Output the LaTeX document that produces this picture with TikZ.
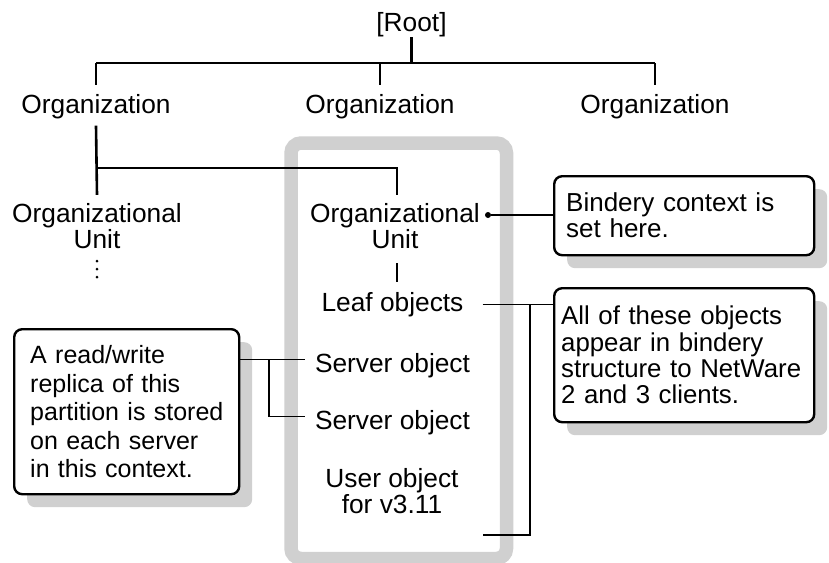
\documentclass[tikz,border=0pt]{standalone}
\usepackage{fontspec}
\setmainfont{Liberation Sans}
\usetikzlibrary{shadows}
\definecolor{framegray}{RGB}{208,208,208}
\begin{document}
\begin{tikzpicture}[x=1pt,y=-1pt,
  txt/.style={inner sep=0pt, font=\fontsize{26.3}{26.5}\selectfont, align=center},
  treeline/.style={line width=2.6pt, black},
  conn/.style={line width=1.4pt, black},
  notebox/.style={draw, line width=2.4pt, rounded corners=8pt, fill=white,
    anchor=north west, align=left, inner ysep=0pt,
    drop shadow={shadow xshift=13pt, shadow yshift=-13pt, fill=framegray, opacity=1}},
  dotnode/.style={circle, fill=black, inner sep=0pt, minimum size=6pt}]
\useasboundingbox (0,0) rectangle (829,562);

% gray frame
\draw[line width=13.5pt, framegray, rounded corners=10pt] (291,143) rectangle (506.5,558.5);

% tree texts
\node[txt, anchor=base] (root) at (411.5,31.5) {[Root]};
\node[txt, anchor=base] (org1) at (96,113) {Organization};
\node[txt, anchor=base] (org2) at (380,113) {Organization};
\node[txt, anchor=base] (org3) at (655,113) {Organization};
\node[txt, anchor=north] (ou1) at (97,202.8) {Organizational\\Unit};
\node[txt, anchor=north] (ou2) at (395,202.8) {Organizational\\Unit};
\node[txt, anchor=base] (leaf) at (392.5,311) {Leaf objects};
\node[txt, anchor=base] (srv1) at (392.5,372) {Server object};
\node[txt, anchor=base] (srv2) at (392.5,429) {Server object};
\node[txt, anchor=north] (user) at (392,468.2) {User object\\for v3.11};

% tree lines
\coordinate (bary) at (0,63);
\coordinate (bry) at (0,168);
\draw[treeline] (root.south) -- (root.south |- bary);
\draw[treeline] (org1.north |- bary) -- (org3.north |- bary);
\foreach \n in {org1,org2,org3}
  \draw[treeline] (\n.north |- bary) -- ([yshift=9pt]\n.north);
\draw[treeline] ([yshift=-7pt]org1.south) -- ([yshift=8pt]ou1.north);
\draw[treeline] (org1.south |- bry) -- ([xshift=2pt]ou2.north |- bry) -- ([xshift=2pt,yshift=8pt]ou2.north);
\draw[treeline] ([xshift=2pt,yshift=-14pt]ou2.south) -- ([xshift=2pt]ou2.south |- 0,282);

% dots below left OU
\foreach \d in {12,20,28}
  \fill ([yshift=-\d pt]ou1.south) circle (1.5pt);

% callouts
\node[notebox, minimum width=260pt, minimum height=79pt, inner xsep=12pt, text width=236pt,
  font=\fontsize{26}{26}\selectfont] (bind) at (553,175) {Bindery context is\\set here.};
\node[notebox, minimum width=260pt, minimum height=134pt, inner xsep=7pt, text width=246pt,
  font=\fontsize{25.8}{26.3}\selectfont] (allb) at (553,287)
  {All of these objects\\appear in bindery\\structure to NetWare\\2 and 3 clients.};
\node[notebox, minimum width=225pt, minimum height=165pt, inner xsep=16pt, text width=193pt,
  font=\fontsize{25}{28.5}\selectfont] (repl) at (13,328)
  {\mbox{A read/write}\\\mbox{replica of this}\\\mbox{partition is stored}\\\mbox{on each server}\\\mbox{in this context.}};

% bindery connector
\node[dotnode] (odot) at (488,215) {};
\draw[conn] (odot) -- (odot -| bind.west);

% leaf bracket
\coordinate (bkt) at (530,0);
\coordinate (lf) at ([xshift=19pt]leaf.east);
\coordinate (ue) at (483,535);
\draw[conn] (lf) -- (lf -| allb.west);
\draw[conn] (bkt |- lf) -- (bkt |- ue) -- (ue);

% replica connector
\coordinate (lb) at (269,0);
\coordinate (s1) at ([xshift=-10pt,yshift=6pt]srv1.west);
\coordinate (s2) at ([xshift=-10pt,yshift=6pt]srv2.west);
\draw[conn] (s1 -| repl.east) -- (s1);
\draw[conn] (lb |- s1) -- (lb |- s2) -- (s2);
\end{tikzpicture}
\end{document}
